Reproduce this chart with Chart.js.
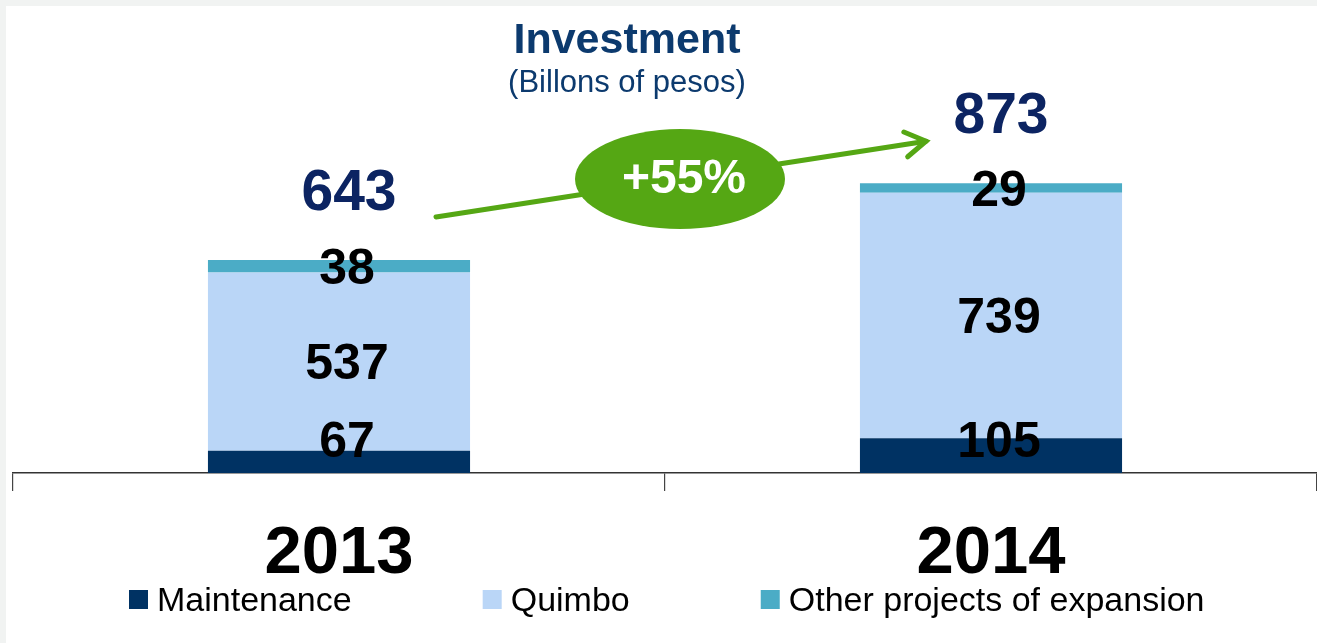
<!DOCTYPE html>
<html>
<head>
<meta charset="utf-8">
<script src="https://cdn.jsdelivr.net/npm/chart.js@4"></script>
<style>
  html, body { margin: 0; padding: 0; background: #f1f3f2; }
  #wrap { position: absolute; left: 6px; top: 6px; width: 1311px; height: 637px; background: #fff; }
</style>
</head>
<body>
<div id="wrap"><canvas id="myChart" width="1311" height="637"></canvas></div>
<script>
// values (billions of pesos)
const categories = ['2013', '2014'];
const maintenance = [67, 105];
const quimbo = [537, 739];
const otherProjects = [38, 29];
const totals = [643, 873];
const growth = '+55%';
const seriesNames = ['Maintenance', 'Quimbo', 'Other projects of expansion'];
const seriesColors = ['#003263', '#bad6f7', '#4bacc6'];

const FONT = '"Liberation Sans", Arial, sans-serif';
const NAVY = '#0c2462';
const GREEN = '#55a714';

// numbers inside the bars + totals above them
const labelsPlugin = {
    id: 'labels',
    afterDatasetsDraw(chart) {
        const ctx = chart.ctx;
        const base = chart.scales.y.getPixelForValue(0);
        ctx.save();
        ctx.textAlign = 'center';
        ctx.textBaseline = 'middle';
        ctx.fillStyle = '#000';
        ctx.font = 'bold 50px ' + FONT;
        chart.data.datasets.forEach(function (ds, i) {
            chart.getDatasetMeta(i).data.forEach(function (el, j) {
                let y = (el.y + el.base) / 2 + 4;
                if (y > base - 30) y = base - 30;
                ctx.fillText(ds.data[j], el.x + 8, y);
            });
        });

        // totals
        const topMeta = chart.getDatasetMeta(chart.data.datasets.length - 1);
        ctx.fillStyle = NAVY;
        ctx.font = 'bold 57px ' + FONT;
        topMeta.data.forEach(function (el, j) {
            ctx.fillText(totals[j], el.x + 10, el.y - 66);
        });

        // growth arrow
        const a = topMeta.data[0], b = topMeta.data[1];
        const x1 = a.x + 97, y1 = a.y - 43;
        const x2 = b.x - 65, y2 = b.y - 42;
        ctx.strokeStyle = GREEN;
        ctx.lineWidth = 5;
        ctx.lineCap = 'round';
        ctx.beginPath();
        ctx.moveTo(x1, y1);
        ctx.lineTo(x2, y2);
        ctx.stroke();
        const ang = Math.atan2(y2 - y1, x2 - x1);
        ctx.beginPath();
        ctx.moveTo(x2 - 24 * Math.cos(ang - 0.55), y2 - 24 * Math.sin(ang - 0.55));
        ctx.lineTo(x2, y2);
        ctx.lineTo(x2 - 24 * Math.cos(ang + 0.55), y2 - 24 * Math.sin(ang + 0.55));
        ctx.stroke();

        const cx = (x1 + x2) / 2 - 1, cy = (y1 + y2) / 2;
        ctx.fillStyle = GREEN;
        ctx.beginPath();
        ctx.ellipse(cx, cy, 105, 50, 0, 0, Math.PI * 2);
        ctx.fill();
        ctx.fillStyle = '#fff';
        ctx.font = 'bold 48px ' + FONT;
        ctx.fillText(growth, cx + 4, cy + 1);
        ctx.restore();
    },
    afterDraw(chart) {
        const ctx = chart.ctx;
        ctx.save();
        // title
        ctx.textAlign = 'center';
        ctx.textBaseline = 'alphabetic';
        ctx.fillStyle = '#0c3a6e';
        ctx.font = 'bold 43px ' + FONT;
        ctx.fillText('Investment', 621, 47);
        ctx.font = '31px ' + FONT;
        ctx.fillText('(Billons of pesos)', 621, 86);

        // legend
        ctx.textAlign = 'left';
        ctx.textBaseline = 'middle';
        ctx.font = '34px ' + FONT;
        let x = 123;
        chart.data.datasets.forEach(function (ds) {
            ctx.fillStyle = ds.backgroundColor;
            ctx.fillRect(x, 584, 19, 19);
            ctx.fillStyle = '#000';
            ctx.fillText(ds.label, x + 28, 596);
            x += 28 + ctx.measureText(ds.label).width + 131;
        });
        ctx.restore();
    }
};

const data = {
    labels: categories,
    datasets: [
        { label: seriesNames[0], data: maintenance, backgroundColor: seriesColors[0] },
        { label: seriesNames[1], data: quimbo, backgroundColor: seriesColors[1] },
        { label: seriesNames[2], data: otherProjects, backgroundColor: seriesColors[2] }
    ]
};

const config = {
    type: 'bar',
    data: data,
    options: {
        responsive: false,
        animation: false,
        barPercentage: 0.402,
        categoryPercentage: 1,
        layout: { padding: { left: 7, right: 0, top: 0, bottom: 20 } },
        plugins: {
            legend: { display: false },
            title: { display: false },
            tooltip: { enabled: false }
        },
        scales: {
            x: {
                stacked: true,
                offset: true,
                afterFit: function (scale) { scale.height = 150; },
                grid: { display: true, drawOnChartArea: false, offset: true, tickLength: 18, color: '#444', lineWidth: 1.2 },
                border: { display: true, color: '#333', width: 1.5 },
                ticks: { color: '#000', padding: 23, font: { family: FONT, size: 67, weight: 'bold' } }
            },
            y: {
                stacked: true,
                display: false,
                min: 0,
                max: 1407
            }
        }
    },
    plugins: [labelsPlugin]
};

const myChart = new Chart(document.getElementById('myChart'), config);
</script>
</body>
</html>
